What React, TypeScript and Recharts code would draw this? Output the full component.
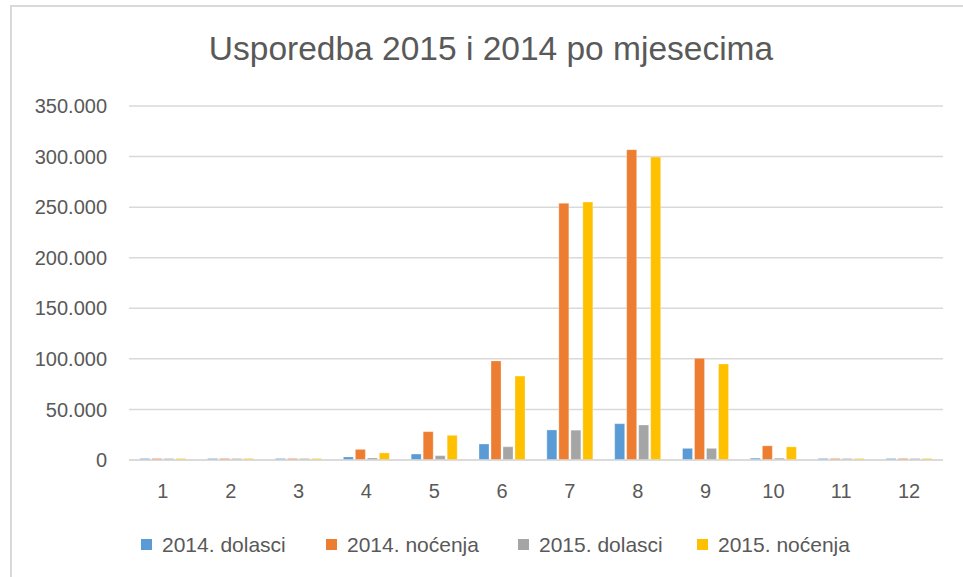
import React from 'react';
import { BarChart, Bar, XAxis, YAxis, CartesianGrid } from 'recharts';

const months = ['1', '2', '3', '4', '5', '6', '7', '8', '9', '10', '11', '12'];
const dolasci2014 = [1500, 1500, 1500, 3000, 5900, 15800, 29700, 35900, 11500, 1800, 1500, 1500];
const nocenja2014 = [1500, 1500, 1500, 10500, 28000, 98000, 253800, 306800, 100500, 14000, 1500, 1500];
const dolasci2015 = [1500, 1500, 1500, 2000, 4300, 13000, 29500, 34600, 11500, 1800, 1500, 1500];
const nocenja2015 = [1500, 1500, 1500, 7000, 24400, 83000, 255000, 299500, 95000, 13000, 1500, 1500];
const yTicks = [0, 50000, 100000, 150000, 200000, 250000, 300000, 350000];

const seriesNames = ['2014. dolasci', '2014. noćenja', '2015. dolasci', '2015. noćenja'];
const seriesKeys = ['d2014', 'n2014', 'd2015', 'n2015'];
const seriesColors = ['#5B9BD5', '#ED7D31', '#A5A5A5', '#FFC000'];

const data = months.map((m, i) => ({
  month: m,
  d2014: dolasci2014[i],
  n2014: nocenja2014[i],
  d2015: dolasci2015[i],
  n2015: nocenja2015[i],
}));

const FONT = '"Liberation Sans", Arial, sans-serif';
const TEXT = '#595959';

const fmt = (v: number) => String(v).replace(/\B(?=(\d{3})+(?!\d))/g, '.');

const legendX = [141, 326, 518, 697];

export default function App() {
  return (
    <div style={{ position: 'absolute', left: 0, top: 0, width: 963, height: 577, background: '#fff', overflow: 'hidden' }}>
      <div
        style={{
          position: 'absolute',
          left: 10,
          top: 5,
          width: 970,
          height: 600,
          borderTop: '2px solid #d9d9d9',
          borderLeft: '2px solid #d9d9d9',
        }}
      />
      <div style={{ position: 'absolute', left: 0, top: 0 }}>
        <BarChart
          width={963}
          height={577}
          data={data}
          margin={{ top: 106, right: 20, bottom: 77, left: 0 }}
          barCategoryGap="16%"
          barGap={2}
        >
          <CartesianGrid vertical={false} stroke="#d9d9d9" strokeWidth={1.5} />
          <XAxis
            dataKey="month"
            height={40}
            tickLine={false}
            axisLine={{ stroke: '#d9d9d9', strokeWidth: 1.5 }}
            tickSize={6}
            tickMargin={18}
            tick={{ fill: TEXT, fontSize: 20, fontFamily: FONT }}
            interval={0}
          />
          <YAxis
            width={129}
            domain={[0, 350000]}
            ticks={yTicks}
            tickFormatter={fmt}
            tickLine={false}
            axisLine={false}
            tickSize={6}
            tickMargin={16}
            tick={{ fill: TEXT, fontSize: 20, fontFamily: FONT }}
            interval={0}
          />
          {seriesKeys.map((k, i) => (
            <Bar
              key={k}
              dataKey={k}
              name={seriesNames[i]}
              fill={seriesColors[i]}
              stroke="#ffffff"
              strokeOpacity={0.5}
              strokeWidth={0.6}
              isAnimationActive={false}
            />
          ))}
        </BarChart>
      </div>
      <svg
        width={963}
        height={577}
        style={{ position: 'absolute', left: 0, top: 0, pointerEvents: 'none' }}
      >
        <text x={491} y={60} textAnchor="middle" fill={TEXT} fontSize={33.5} fontFamily={FONT}>
          Usporedba 2015 i 2014 po mjesecima
        </text>
        {seriesNames.map((n, i) => (
          <g key={n}>
            <rect x={legendX[i]} y={539} width={11} height={11} fill={seriesColors[i]} />
            <text x={legendX[i] + 21} y={551.5} fill={TEXT} fontSize={21} fontFamily={FONT}>
              {n}
            </text>
          </g>
        ))}
      </svg>
    </div>
  );
}
